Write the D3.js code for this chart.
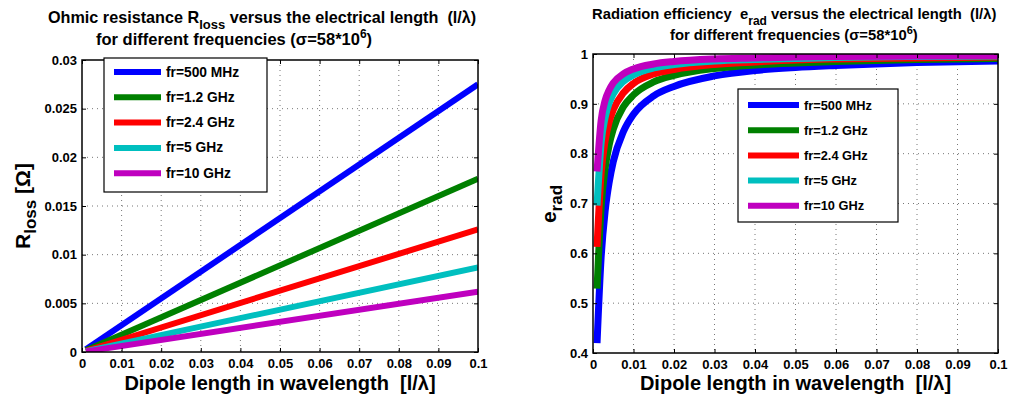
<!DOCTYPE html>
<html>
<head>
<meta charset="utf-8">
<script src="https://cdn.jsdelivr.net/npm/d3@7"></script>
<style>
body{margin:0;background:#fff;}
svg text{font-family:"Liberation Sans",Arial,Helvetica,sans-serif;font-weight:bold;fill:#000;white-space:pre;}
</style>
</head>
<body>
<div id="plot"></div>
<script>
// data
var series = ["fr=500 MHz","fr=1.2 GHz","fr=2.4 GHz","fr=5 GHz","fr=10 GHz"];
var colors = ["#0000ff","#008000","#ff0000","#00bfbf","#bf00bf"];

// left panel: straight lines, start and end points
var rlossX = [0.001, 0.1];
var rloss500 = [0.000275, 0.0275];
var rloss1200 = [0.000178, 0.0178];
var rloss2400 = [0.000126, 0.0126];
var rloss5000 = [0.000087, 0.0087];
var rloss10000 = [0.000062, 0.0062];

// right panel: efficiency curves
var eradX = [0.001,0.002,0.003,0.004,0.005,0.0075,0.01,0.015,0.02,0.03,0.04,0.05,0.06,0.08,0.1];
var erad500 = [0.420,0.591,0.685,0.743,0.784,0.844,0.879,0.916,0.935,0.956,0.967,0.973,0.977,0.983,0.986];
var erad1200 = [0.529,0.692,0.771,0.818,0.849,0.894,0.918,0.944,0.957,0.971,0.978,0.982,0.985,0.989,0.991];
var erad2400 = [0.613,0.760,0.826,0.864,0.888,0.922,0.941,0.960,0.969,0.979,0.984,0.988,0.990,0.992,0.994];
var erad5000 = [0.696,0.821,0.873,0.902,0.920,0.945,0.958,0.972,0.979,0.986,0.989,0.991,0.993,0.995,0.996];
var erad10000 = [0.764,0.866,0.907,0.928,0.942,0.960,0.970,0.980,0.985,0.990,0.992,0.994,0.995,0.996,0.997];

var xTicks = [0,0.01,0.02,0.03,0.04,0.05,0.06,0.07,0.08,0.09,0.1];
var xTickLabels = ["0","0.01","0.02","0.03","0.04","0.05","0.06","0.07","0.08","0.09","0.1"];
var rlossTicks = [0,0.005,0.01,0.015,0.02,0.025,0.03];
var rlossTickLabels = ["0","0.005","0.01","0.015","0.02","0.025","0.03"];
var eradTicks = [0.4,0.5,0.6,0.7,0.8,0.9,1];
var eradTickLabels = ["0.4","0.5","0.6","0.7","0.8","0.9","1"];

var W = 1011, H = 399;
var svg = d3.select('#plot').append('svg')
    .attr('width',W).attr('height',H);
svg.append('rect').attr('width',W).attr('height',H).attr('fill','#fff');

function panel(cfg){
    var x = d3.scaleLinear().domain([0,0.1]).range([cfg.l,cfg.r]);
    var y = d3.scaleLinear().domain(cfg.yDomain).range([cfg.b,cfg.t]);
    var g = svg.append('g');

    // dotted grid
    g.selectAll('.gx').data(xTicks.slice(1,-1)).enter().append('line')
        .attr('x1',d=>x(d)).attr('x2',d=>x(d)).attr('y1',cfg.t).attr('y2',cfg.b)
        .attr('stroke','#777').attr('stroke-width',1).attr('stroke-dasharray','1,4');
    g.selectAll('.gy').data(cfg.yTicks.slice(1,-1)).enter().append('line')
        .attr('y1',d=>y(d)).attr('y2',d=>y(d)).attr('x1',cfg.l).attr('x2',cfg.r)
        .attr('stroke','#777').attr('stroke-width',1).attr('stroke-dasharray','1,4');

    // curves
    var clipId = 'clip'+cfg.id;
    svg.append('clipPath').attr('id',clipId).append('rect')
        .attr('x',cfg.l).attr('y',cfg.t).attr('width',cfg.r-cfg.l).attr('height',cfg.b-cfg.t);
    var line = d3.line().x(d=>x(d[0])).y(d=>y(d[1])).curve(d3.curveMonotoneX);
    cfg.data.forEach(function(vals,i){
        g.append('path')
            .attr('d',line(cfg.xs.map((v,j)=>[v,vals[j]])))
            .attr('fill','none').attr('stroke',colors[i])
            .attr('stroke-width',cfg.lw)
            .attr('clip-path','url(#'+clipId+')');
    });

    // axes
    var xa = d3.axisBottom(x).tickValues(xTicks).tickFormat((d,i)=>xTickLabels[i])
        .tickSizeInner(-4).tickSizeOuter(0).tickPadding(7);
    var xb = g.append('g').attr('transform','translate(0,'+cfg.b+')').call(xa);
    var xt = g.append('g').attr('transform','translate(0,'+cfg.t+')')
        .call(d3.axisTop(x).tickValues(xTicks).tickFormat('').tickSizeInner(-4).tickSizeOuter(0));
    var ya = d3.axisLeft(y).tickValues(cfg.yTicks).tickFormat((d,i)=>cfg.yLabels[i])
        .tickSizeInner(-4).tickSizeOuter(0).tickPadding(5);
    var yb = g.append('g').attr('transform','translate('+cfg.l+',0)').call(ya);
    var yr = g.append('g').attr('transform','translate('+cfg.r+',0)')
        .call(d3.axisRight(y).tickValues(cfg.yTicks).tickFormat('').tickSizeInner(-4).tickSizeOuter(0));
    [xb,xt,yb,yr].forEach(function(a){
        a.select('.domain').remove();
        a.selectAll('line').attr('stroke','#000');
        a.selectAll('text').style('font-size','13px').attr('fill','#000');
    });
    g.append('rect').attr('x',cfg.l).attr('y',cfg.t)
        .attr('width',cfg.r-cfg.l).attr('height',cfg.b-cfg.t)
        .attr('fill','none').attr('stroke','#000').attr('stroke-width',1.5);

    // x label
    g.append('text').attr('x',(cfg.l+cfg.r)/2).attr('y',390)
        .attr('text-anchor','middle').style('font-size','20px')
        .text('Dipole length in wavelength  [l/λ]');

    // legend
    var L = cfg.legend;
    g.append('rect').attr('x',L.x).attr('y',L.y).attr('width',L.w).attr('height',L.h)
        .attr('fill','#fff').attr('stroke','#000').attr('stroke-width',1.2);
    series.forEach(function(s,i){
        var yy = L.y + L.first + i*L.step;
        g.append('line').attr('x1',L.x+L.lx).attr('x2',L.x+L.lx+L.lw)
            .attr('y1',yy).attr('y2',yy).attr('stroke',colors[i]).attr('stroke-width',6);
        g.append('text').attr('x',L.x+L.lx+L.lw+5).attr('y',yy+4.5)
            .style('font-size',L.fs).text(s);
    });
    return g;
}

var gl = panel({id:'L',l:82,r:478,t:60,b:352,yDomain:[0,0.03],yTicks:rlossTicks,yLabels:rlossTickLabels,
    xs:rlossX,data:[rloss500,rloss1200,rloss2400,rloss5000,rloss10000],lw:6,
    legend:{x:104,y:58,w:163,h:134,first:14,step:25.3,lx:10,lw:47,fs:'13.8px'}});
var gr = panel({id:'R',l:593,r:998,t:54,b:353,yDomain:[0.4,1],yTicks:eradTicks,yLabels:eradTickLabels,
    xs:eradX,data:[erad500,erad1200,erad2400,erad5000,erad10000],lw:7,
    legend:{x:738,y:89,w:160,h:133,first:16,step:25.2,lx:10,lw:51,fs:'12.8px'}});

// left titles
var t1 = gl.append('text').attr('x',48).attr('y',23).style('font-size','16.2px');
t1.append('tspan').text('Ohmic resistance R');
t1.append('tspan').attr('dy',6).style('font-size','13px').text('loss');
t1.append('tspan').attr('dy',-6).text(' versus the electrical length  (l/λ)');
var t2 = gl.append('text').attr('x',96).attr('y',45).style('font-size','16.5px');
t2.append('tspan').text('for different frequencies (σ=58*10');
t2.append('tspan').attr('dy',-7).style('font-size','12px').text('6');
t2.append('tspan').attr('dy',7).text(')');

// left y label
var yl = gl.append('text').attr('transform','translate(30,206) rotate(-90)')
    .attr('text-anchor','middle').style('font-size','21px');
yl.append('tspan').text('R');
yl.append('tspan').attr('dy',6).style('font-size','17px').text('loss');
yl.append('tspan').attr('dy',-6).text(' [Ω]');

// right titles
var t3 = gr.append('text').attr('x',592).attr('y',19).style('font-size','14.8px');
t3.append('tspan').text('Radiation efficiency  e');
t3.append('tspan').attr('dy',6).style('font-size','12px').text('rad');
t3.append('tspan').attr('dy',-6).text(' versus the electrical length  (l/λ)');
var t4 = gr.append('text').attr('x',670).attr('y',40).style('font-size','14.8px');
t4.append('tspan').text('for different frequencies (σ=58*10');
t4.append('tspan').attr('dy',-6).style('font-size','11px').text('6');
t4.append('tspan').attr('dy',6).text(')');

// right y label
var yr2 = gr.append('text').attr('transform','translate(556,204) rotate(-90)')
    .attr('text-anchor','middle').style('font-size','21px');
yr2.append('tspan').text('e');
yr2.append('tspan').attr('dy',6).style('font-size','17px').text('rad');
</script>
</body>
</html>
